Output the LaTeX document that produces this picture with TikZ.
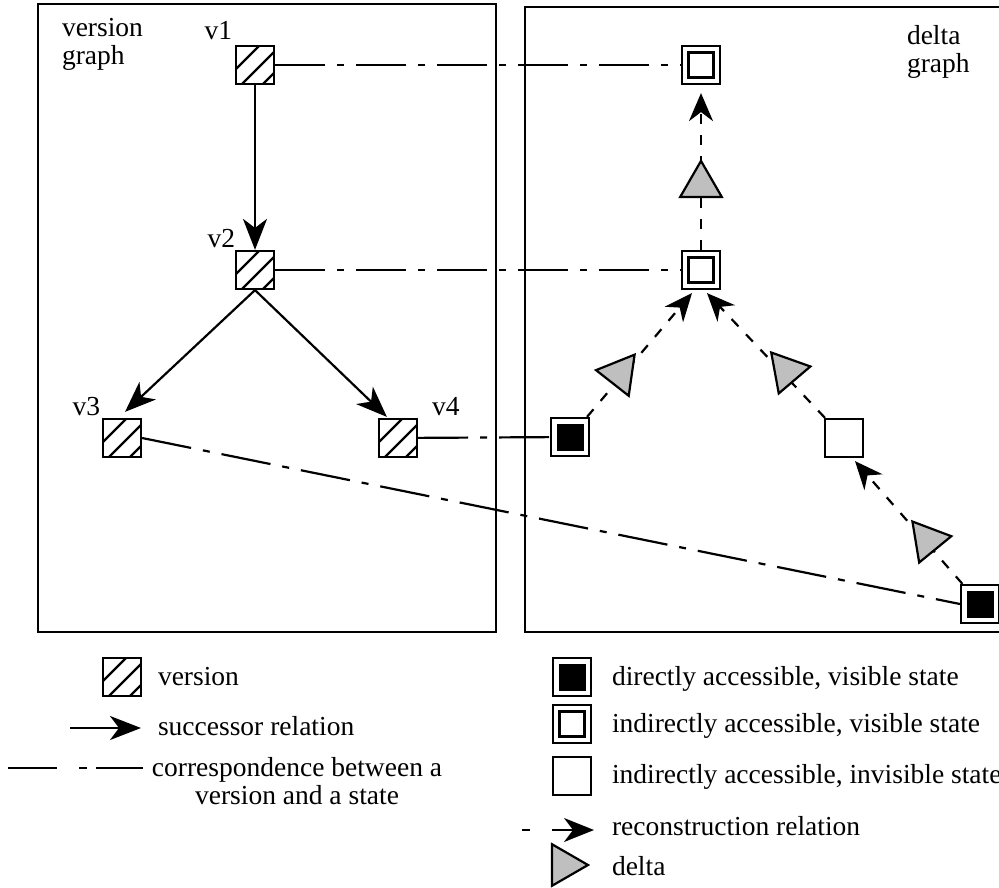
\documentclass[tikz,border=0pt]{standalone}
\usepackage{fontspec}
\setmainfont{Liberation Serif}
\usetikzlibrary{arrows.meta,shapes.geometric,calc}
\tikzset{
  lbl/.style={font=\fontsize{27.5}{30}\selectfont, inner sep=0pt, outer sep=0pt},
  hatchsq/.style={draw, line width=2.2pt, minimum size=38pt, inner sep=0pt, fill=white,
    path picture={
      \foreach \c in {-15,6,27}{
        \draw[line width=2.4pt] ($(path picture bounding box.center)+(-30,{\c+30})$) -- ($(path picture bounding box.center)+(30,{\c-30})$);
      }
    }},
  dirsq/.style={draw, line width=2.2pt, minimum size=38pt, inner sep=0pt, fill=white,
    path picture={
      \draw[line width=2pt, fill=black] ($(path picture bounding box.center)+(-12.5,-12.5)$) rectangle ($(path picture bounding box.center)+(12.5,12.5)$);
    }},
  vissq/.style={draw, line width=2.2pt, minimum size=38pt, inner sep=0pt, fill=white,
    path picture={
      \draw[line width=2.2pt] ($(path picture bounding box.center)+(-12.5,-12.5)$) rectangle ($(path picture bounding box.center)+(12.5,12.5)$);
    }},
  invsq/.style={draw, line width=2.2pt, minimum size=38pt, inner sep=0pt, fill=white},
  deltatri/.style={draw, line width=2.2pt, fill=gray!50, regular polygon, regular polygon sides=3,
    regular polygon rotate=-90, minimum size=48pt, inner sep=0pt},
  succ/.style={line width=2.2pt, -{Stealth[length=31pt, width=24pt, inset=9pt]}},
  recon/.style={line width=2.2pt, dash pattern=on 10pt off 11pt, -{Stealth[length=28pt, width=24pt, inset=9pt]}},
  dashdot/.style={line width=2.2pt, dash pattern=on 50pt off 12pt on 7pt off 12pt},
  boxline/.style={line width=2.2pt},
}
\begin{document}
\begin{tikzpicture}[x=1pt, y=-1pt, line width=2.2pt]
\useasboundingbox (0,0) rectangle (999,888);

% frames
\draw[boxline] (38,4) rectangle (496,632);
\draw[boxline] (525,7) rectangle (1004,632);

\node[lbl, anchor=base west] (vgA) at (62,37) {version};
\node[lbl, anchor=base west] (vgB) at (62,65) {graph};
\node[lbl, anchor=base west] (dgA) at (907,45) {delta};
\node[lbl, anchor=base west] (dgB) at (907,73) {graph};

% version graph
\node[hatchsq] (v1) at (255,65) {};
\node[hatchsq] (v2) at (255,270) {};
\node[hatchsq] (v3) at (122,438) {};
\node[hatchsq] (v4) at (398,438) {};
\node[lbl, anchor=base east] (lv1) at (232,40) {v1};
\node[lbl, anchor=base east] (lv2) at (235,247) {v2};
\node[lbl, anchor=base east] (lv3) at (100,415) {v3};
\node[lbl, anchor=base west] (lv4) at (432,415) {v4};

\draw[succ] (v1.south) -- (v2.north);
\draw[succ] (v2.south) -- ($(v3.north)+(3,-6)$);
\draw[succ] (v2.south) -- ($(v4.north west)+(9,-1)$);

% delta graph
\node[vissq] (t1) at (701,65) {};
\node[vissq] (t2) at (701,270) {};
\node[dirsq] (blk) at (570,437) {};
\node[invsq] (inv) at (844,438) {};
\node[dirsq] (br) at (980,604) {};

% correspondences
\draw[dashdot] (v1) -- (t1);
\draw[dashdot] (v2) -- (t2);
\draw[dashdot] (v4) -- (blk);
\draw[dashdot] (v3.east) -- (br.west);

% reconstruction relations
\draw[recon] (t2) -- ($(t1.south)+(0,8)$);
\draw[recon] (blk) -- ($(t2.south)+(-9,3)$);
\draw[recon] (inv) -- ($(t2.south)+(6,3)$);
\draw[recon] (br) -- ($(inv.south)+(11,3)$);

% deltas
\path (t2.center) -- node[deltatri, pos=0.415, sloped, allow upside down] (d1) {} (t1.center);
\path (blk.center) -- node[deltatri, pos=0.38, sloped, allow upside down] (d2) {} (t2.center);
\path (inv.center) -- node[deltatri, pos=0.40, sloped, allow upside down] (d3) {} (t2.center);
\path (br.center) -- node[deltatri, pos=0.385, sloped, allow upside down] (d4) {} (inv.center);

% legend, left
\node[hatchsq] (Lver) at (122,677) {};
\node[lbl, anchor=base west] (Lvert) at (158,685) {version};
\coordinate (Ls1) at (70,728);
\coordinate (Ls2) at (141,728);
\draw[succ] (Ls1) -- (Ls2);
\node[lbl, anchor=base west] (Lsuct) at (158,735) {successor relation};
\coordinate (Lc1) at (8,768);
\coordinate (Lc2) at (143,768);
\draw[line width=2.2pt, dash pattern=on 49pt off 22pt on 8pt off 9pt on 80pt] (Lc1) -- (Lc2);
\node[lbl, anchor=base] (Lcor1) at (297,776) {correspondence between a};
\node[lbl, anchor=base] (Lcor2) at (297,804) {version and a state};

% legend, right
\node[dirsq] (Ldir) at (572,677) {};
\node[lbl, anchor=base west] (Ldirt) at (612,685) {directly accessible, visible state};
\node[vissq] (Lvis) at (572,724) {};
\node[lbl, anchor=base west] (Lvist) at (612,732) {indirectly accessible, visible state};
\node[invsq] (Linv) at (572,776) {};
\node[lbl, anchor=base west] (Linvt) at (612,783) {indirectly accessible, invisible state};
\coordinate (Lr1) at (522,830);
\coordinate (Lr2) at (594,830);
\draw[line width=2.2pt, dash pattern=on 8pt off 22pt on 60pt, -{Stealth[length=30pt, width=24pt, inset=9pt]}] (Lr1) -- (Lr2);
\node[lbl, anchor=base west] (Lrect) at (612,835) {reconstruction relation};
\node[deltatri] (Ldel) at (564,865) {};
\node[lbl, anchor=base west] (Ldelt) at (612,875) {delta};
\end{tikzpicture}
\end{document}
